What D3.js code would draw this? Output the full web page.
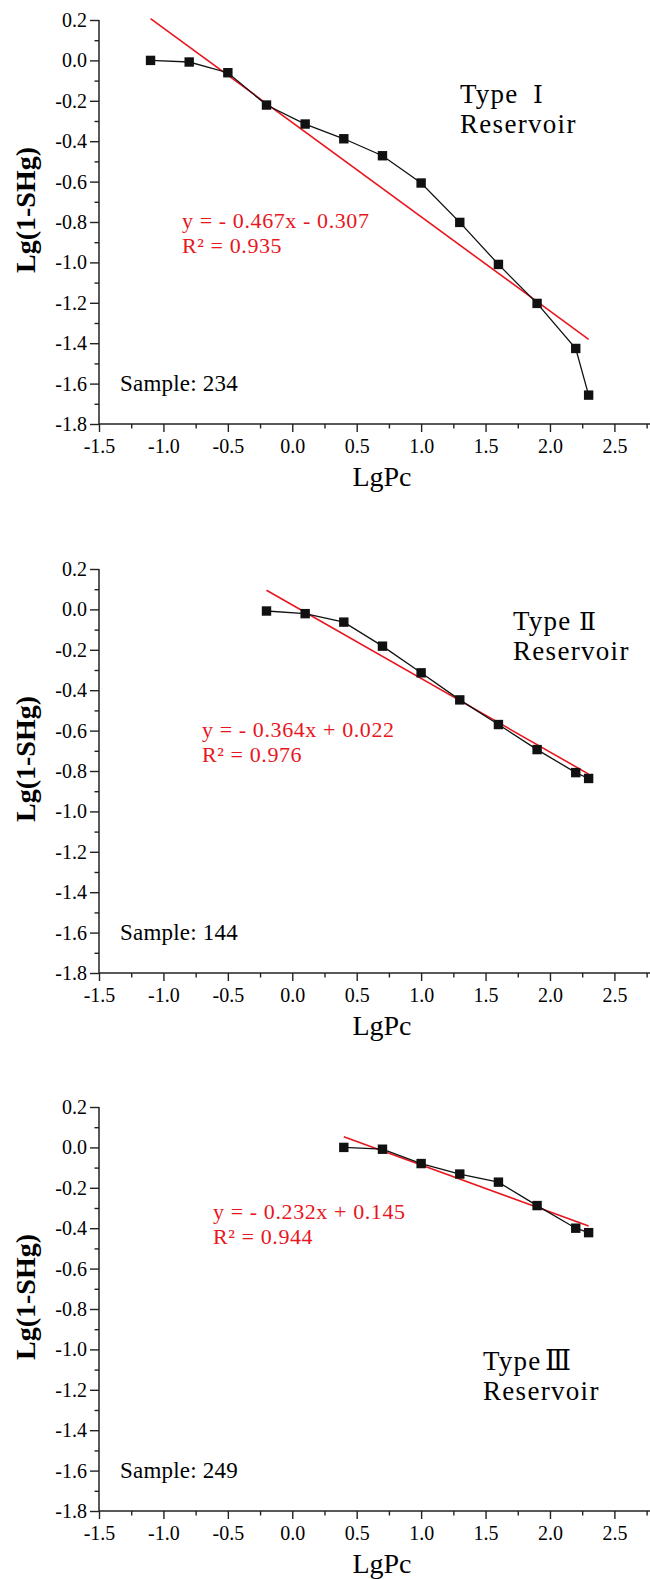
<!DOCTYPE html>
<html>
<head>
<meta charset="utf-8">
<script src="https://d3js.org/d3.v7.min.js"></script>
<style>
  body { margin: 0; background: #fff; }
  svg text { font-family: "Liberation Serif", "Times New Roman", serif; }
</style>
</head>
<body>
<svg id="chart" width="650" height="1579"></svg>
<script>
// ---- data ----
const lgPcI = [-1.1, -0.8, -0.5, -0.2, 0.1, 0.4, 0.7, 1.0, 1.3, 1.6, 1.9, 2.2, 2.3];
const lgShI = [0.0, -0.008, -0.061, -0.221, -0.315, -0.388, -0.472, -0.607, -0.802, -1.010, -1.203, -1.426, -1.657];

const lgPcII = [-0.2, 0.1, 0.4, 0.7, 1.0, 1.3, 1.6, 1.9, 2.2, 2.3];
const lgShII = [-0.008, -0.021, -0.063, -0.182, -0.314, -0.448, -0.570, -0.694, -0.808, -0.837];

const lgPcIII = [0.4, 0.7, 1.0, 1.3, 1.6, 1.9, 2.2, 2.3];
const lgShIII = [0.0, -0.009, -0.080, -0.132, -0.172, -0.288, -0.400, -0.422];

const slopes = [-0.467, -0.364, -0.232];
const intercepts = [-0.307, 0.022, 0.145];
const eqLabels = ["y = - 0.467x - 0.307", "y = - 0.364x + 0.022", "y = - 0.232x + 0.145"];
const r2Labels = ["R² = 0.935", "R² = 0.976", "R² = 0.944"];
const typeWords = ["Type", "Type", "Type"];
const typeNums = ["Ⅰ", "Ⅱ", "Ⅲ"];
const samples = ["Sample: 234", "Sample: 144", "Sample: 249"];

const xMajor = [-1.5, -1.0, -0.5, 0.0, 0.5, 1.0, 1.5, 2.0, 2.5];
const xMinor = [-1.25, -0.75, -0.25, 0.25, 0.75, 1.25, 1.75, 2.25, 2.75];
const yMajor = [0.2, 0.0, -0.2, -0.4, -0.6, -0.8, -1.0, -1.2, -1.4, -1.6, -1.8];
const yMinor = [0.1, -0.1, -0.3, -0.5, -0.7, -0.9, -1.1, -1.3, -1.5, -1.7];

const series = [
  { x: lgPcI, y: lgShI },
  { x: lgPcII, y: lgShII },
  { x: lgPcIII, y: lgShIII }
];

// ---- layout ----
const panelTop = [20, 569, 1107];
const plotH = 404;
const left = 99, right = 614.4, axisEnd = 650;
const red = "#e8161e";

// annotation spots per panel (pixels)
const typePos = [[460, 103], [513, 630], [483, 1370]];
const numPos = [533, 579, 545];
const numSize = [25, 25, 27];
const eqPos = [[182, 228], [202, 737], [213, 1219]];

const svg = d3.select("#chart");

series.forEach((s, i) => {
  const top = panelTop[i];
  const bottom = top + plotH;
  const x = d3.scaleLinear().domain([-1.5, 2.5]).range([left, right]);
  const y = d3.scaleLinear().domain([-1.8, 0.2]).range([bottom, top]);
  const g = svg.append("g");

  // x axis
  const xa = g.append("g").attr("transform", `translate(0,${bottom})`)
    .call(d3.axisBottom(x).tickValues(xMajor).tickSize(8).tickPadding(7)
      .tickFormat(d => d.toFixed(1)));
  const xm = g.append("g").attr("transform", `translate(0,${bottom})`)
    .call(d3.axisBottom(d3.scaleLinear().domain([-1.5, 2.75]).range([left, x(2.75)]))
      .tickValues(xMinor).tickSize(4.5).tickFormat(""));
  // y axis
  const ya = g.append("g").attr("transform", `translate(${left},0)`)
    .call(d3.axisLeft(y).tickValues(yMajor).tickSize(9).tickPadding(3)
      .tickFormat(d => d.toFixed(1)));
  const ym = g.append("g").attr("transform", `translate(${left},0)`)
    .call(d3.axisLeft(y).tickValues(yMinor).tickSize(4.5).tickFormat(""));

  [xa, xm, ya, ym].forEach(a => {
    a.attr("font-family", null).attr("font-size", null);
    a.select(".domain").remove();
    a.selectAll("line").attr("stroke", "#222").attr("stroke-width", 1.4);
    a.selectAll("text").attr("fill", "#000").style("font-size", "20px")
      .style("font-family", "'Liberation Serif', serif");
  });

  g.append("line").attr("x1", left).attr("x2", axisEnd)
    .attr("y1", bottom).attr("y2", bottom)
    .attr("stroke", "#222").attr("stroke-width", 1.5);
  g.append("line").attr("x1", left).attr("x2", left)
    .attr("y1", top).attr("y2", bottom)
    .attr("stroke", "#222").attr("stroke-width", 1.5);

  // axis titles
  g.append("text")
    .attr("transform", `translate(34.5,${top + 190}) rotate(-90)`)
    .attr("text-anchor", "middle")
    .style("font-size", "28px").style("font-weight", "bold")
    .attr("fill", "#000")
    .text("Lg(1-SHg)");
  g.append("text")
    .attr("x", 382).attr("y", bottom + 62)
    .attr("text-anchor", "middle")
    .style("font-size", "28px")
    .attr("fill", "#000")
    .text("LgPc");

  // fit line
  const x0 = d3.min(s.x), x1 = d3.max(s.x);
  const fit = v => slopes[i] * v + intercepts[i];
  g.append("line")
    .attr("x1", x(x0)).attr("y1", y(fit(x0)))
    .attr("x2", x(x1)).attr("y2", y(fit(x1)))
    .attr("stroke", red).attr("stroke-width", 1.6);

  // data line + squares
  const pts = s.x.map((v, k) => [v, s.y[k]]);
  g.append("path")
    .datum(pts)
    .attr("fill", "none").attr("stroke", "#111").attr("stroke-width", 1.3)
    .attr("d", d3.line().x(d => x(d[0])).y(d => y(d[1])));
  g.selectAll("rect.pt").data(pts).enter().append("rect")
    .attr("class", "pt")
    .attr("x", d => x(d[0]) - 4.7).attr("y", d => y(d[1]) - 4.7)
    .attr("width", 9.4).attr("height", 9.4)
    .attr("fill", "#111");

  // type labels
  g.append("text")
    .attr("x", typePos[i][0]).attr("y", typePos[i][1])
    .style("font-size", "27px").style("letter-spacing", "1.2px")
    .attr("fill", "#000").text(typeWords[i]);
  g.append("text")
    .attr("x", numPos[i]).attr("y", typePos[i][1])
    .style("font-size", numSize[i] + "px").style("font-family", "'DejaVu Serif', serif")
    .attr("fill", "#000").text(typeNums[i]);
  g.append("text")
    .attr("x", typePos[i][0]).attr("y", typePos[i][1] + 30)
    .style("font-size", "27px").style("letter-spacing", "1.3px")
    .attr("fill", "#000").text("Reservoir");

  // equation
  g.append("text")
    .attr("x", eqPos[i][0]).attr("y", eqPos[i][1])
    .style("font-size", "22px").style("letter-spacing", "0.6px")
    .attr("fill", red).text(eqLabels[i]);
  g.append("text")
    .attr("x", eqPos[i][0]).attr("y", eqPos[i][1] + 25)
    .style("font-size", "22px").style("letter-spacing", "0.6px")
    .attr("fill", red).text(r2Labels[i]);

  // sample count
  g.append("text")
    .attr("x", 120).attr("y", bottom - 33.5)
    .style("font-size", "23px").style("letter-spacing", "0.2px")
    .attr("fill", "#000").text(samples[i]);
});
</script>
</body>
</html>
